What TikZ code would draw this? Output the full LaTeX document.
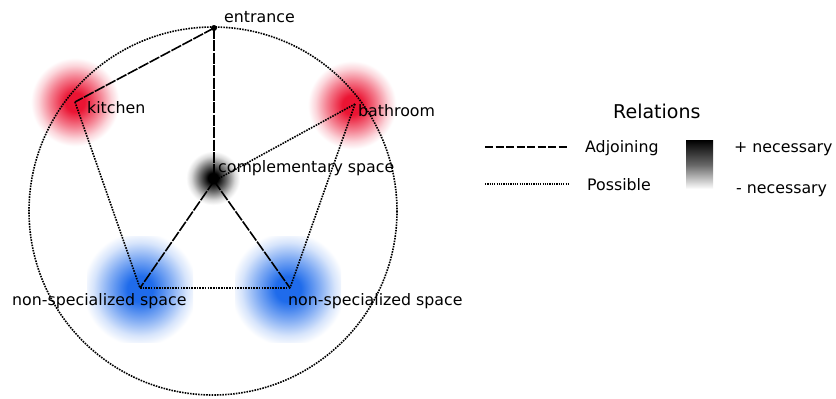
\documentclass[tikz,border=0pt]{standalone}
\usepackage{fontspec}
\setmainfont{DejaVu Sans}
\definecolor{redc}{rgb}{0.92,0.08,0.2}
\definecolor{bluec}{rgb}{0.12,0.42,0.92}
\pgfdeclareradialshading{redglow}{\pgfpoint{0bp}{0bp}}{color(0bp)=(redc); color(5bp)=(redc); color(13bp)=(redc!55!white); color(19bp)=(redc!18!white); color(23bp)=(white); color(50bp)=(white)}
\pgfdeclareradialshading{blueglow}{\pgfpoint{0bp}{0bp}}{color(0bp)=(bluec); color(6bp)=(bluec); color(15bp)=(bluec!55!white); color(22bp)=(bluec!18!white); color(27bp)=(white); color(50bp)=(white)}
\pgfdeclareradialshading{blackglow}{\pgfpoint{0bp}{0bp}}{color(0bp)=(black); color(4bp)=(black); color(11bp)=(black!55!white); color(17bp)=(black!15!white); color(21bp)=(white); color(50bp)=(white)}
\tikzset{
  adjoin/.style={line width=1.6pt, dash pattern=on 11pt off 1.4pt},
  possible/.style={line width=1.6pt, dash pattern=on 1.6pt off 1.1pt},
  lbl/.style={font=\fontsize{15.8}{19}\selectfont, inner sep=0pt, anchor=base west},
  spot/.style={inner sep=0pt, minimum size=0pt}
}
\begin{document}
\begin{tikzpicture}[x=1pt,y=-1pt]
\useasboundingbox (0,0) rectangle (836,399);
% glows
\fill[shading=redglow] (75,102) ++(-48,-48) rectangle ++(96,96);
\fill[shading=redglow] (352,105) ++(-48,-48) rectangle ++(96,96);
\fill[shading=blackglow] (213,178) ++(-32,-32) rectangle ++(64,64);
\fill[shading=blueglow] (87,236) rectangle (193,342);
\fill[shading=blueglow] (235,236) rectangle (341,342);
% outer circle
\coordinate (cc) at (213,211);
\draw[possible] (cc) circle (184);
% points
\node[spot] (ent) at (214,28) {};
\node[spot] (kit) at (75,102) {};
\node[spot] (bath) at (355,104) {};
\node[spot] (comp) at (214,181) {};
\node[spot] (nsl) at (140,288) {};
\node[spot] (nsr) at (290,288) {};
% relations
\draw[adjoin] (ent.center) -- (kit.center);
\draw[adjoin] (ent.center) -- (comp.center);
\draw[adjoin] (comp.center) -- (nsl.center);
\draw[adjoin] (comp.center) -- (nsr.center);
\draw[possible] (kit.center) -- (nsl.center);
\draw[possible] (bath.center) -- (comp.center);
\draw[possible] (bath.center) -- (nsr.center);
\draw[possible] (nsl.center) -- (nsr.center);
\fill (ent.center) circle (3);
% labels
\node[lbl] (tent) at (224,22) {entrance};
\node[lbl] (tkit) at (87,113) {kitchen};
\node[lbl] (tbath) at (358,116) {bathroom};
\node[lbl] (tcomp) at (218,172) {complementary space};
\node[lbl] (tnsl) at (12,305) {non-specialized space};
\node[lbl] (tnsr) at (288,305) {non-specialized space};
% legend
\node[lbl, font=\fontsize{19}{22}\selectfont] (rel) at (613,118) {Relations};
\coordinate (la1) at (485,147);
\coordinate (la2) at (568,147);
\coordinate (lp1) at (485,184);
\coordinate (lp2) at (568,184);
\draw[line width=1.3pt, dash pattern=on 8pt off 2.5pt] (la1) -- (la2);
\draw[line width=1.2pt, dash pattern=on 1.2pt off 1.1pt] (lp1) -- (lp2);
\node[lbl] (tadj) at (585,152) {Adjoining};
\node[lbl] (tpos) at (587,190) {Possible};
\shade[top color=black, bottom color=white, middle color=black!60] (686,140) rectangle (713,189);
\node[lbl] (tplus) at (734,152) {+ necessary};
\node[lbl] (tminus) at (736,193) {- necessary};
\end{tikzpicture}
\end{document}
